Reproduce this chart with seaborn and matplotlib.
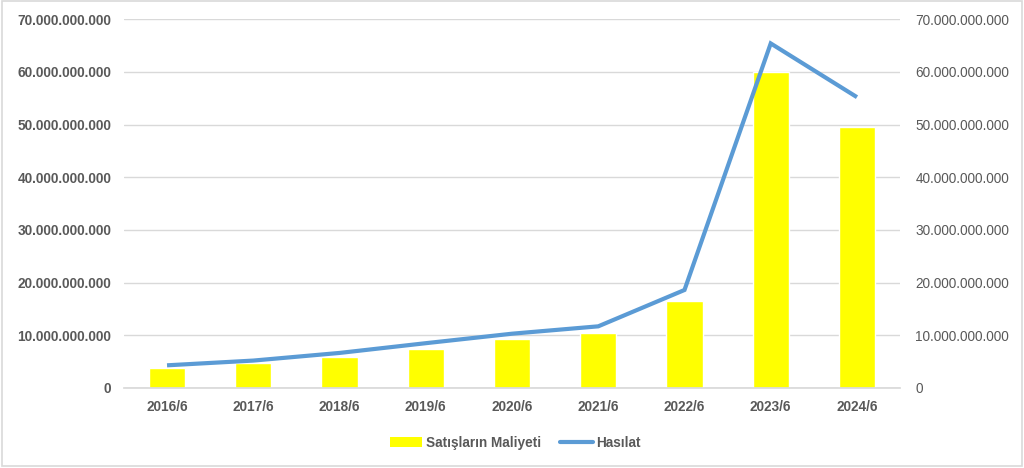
import matplotlib
matplotlib.use("Agg")
import matplotlib.pyplot as plt
import seaborn as sns
import pandas as pd
from matplotlib.ticker import FuncFormatter, MultipleLocator
from matplotlib.patches import Rectangle
from matplotlib.lines import Line2D
from matplotlib.patches import Patch

categories = ["2016/6", "2017/6", "2018/6", "2019/6", "2020/6", "2021/6", "2022/6", "2023/6", "2024/6"]
satislarin_maliyeti = [3.85e9, 4.7e9, 5.9e9, 7.4e9, 9.3e9, 10.4e9, 16.55e9, 60.0e9, 49.6e9]
hasilat = [4.3e9, 5.2e9, 6.65e9, 8.5e9, 10.3e9, 11.7e9, 18.6e9, 65.4e9, 55.2e9]

df = pd.DataFrame({"Dönem": categories, "Satışların Maliyeti": satislarin_maliyeti, "Hasılat": hasilat})

sns.set_theme(style="white")
plt.rcParams["font.family"] = ["Liberation Sans", "DejaVu Sans"]

BAR_C = "#FFFF00"
LINE_C = "#5B9BD5"
TXT = "#595959"
GRID = "#D9D9D9"
FS = 9.8

fig = plt.figure(figsize=(10.24, 4.68), dpi=100)
ax = fig.add_axes([0.121, 0.171, 0.758, 0.788])

sns.barplot(data=df, x="Dönem", y="Satışların Maliyeti", color=BAR_C, width=0.42,
            saturation=1, ax=ax, zorder=2)
ax.set_ylim(0, 70e9)
ax.yaxis.set_major_locator(MultipleLocator(10e9))
fmt = FuncFormatter(lambda v, p: f"{v:,.0f}".replace(",", "."))
ax.yaxis.set_major_formatter(fmt)
ax.grid(axis="y", color=GRID, linewidth=1, zorder=0)
ax.set_axisbelow(True)
ax.set_xlabel("")
ax.set_ylabel("")
for s in ["top", "left", "right"]:
    ax.spines[s].set_visible(False)
ax.spines["bottom"].set_color(GRID)
ax.tick_params(axis="x", length=0, colors=TXT, labelsize=FS, pad=9)
ax.tick_params(axis="y", length=0, colors=TXT, labelsize=FS, pad=9)
for lab in ax.get_xticklabels() + ax.get_yticklabels():
    lab.set_fontweight("bold")
    lab.set_color(TXT)

ax2 = ax.twinx()
sns.pointplot(data=df, x="Dönem", y="Hasılat", color=LINE_C, markers="", errorbar=None,
              linewidth=3, ax=ax2)
ax2.set_xlim(ax.get_xlim())
ax2.set_ylim(0, 70e9)
ax2.yaxis.set_major_locator(MultipleLocator(10e9))
ax2.yaxis.set_major_formatter(fmt)
ax2.set_ylabel("")
ax2.set_xlabel("")
ax2.grid(False)
for s in ["top", "left", "right", "bottom"]:
    ax2.spines[s].set_visible(False)
ax2.tick_params(axis="y", length=0, colors=TXT, labelsize=FS, pad=11)
for l in ax2.lines:
    l.set_solid_capstyle("butt")
    l.set_solid_joinstyle("miter")

handles = [Patch(facecolor=BAR_C, edgecolor="none", label="Satışların Maliyeti"),
           Line2D([0], [0], color=LINE_C, linewidth=3, label="Hasılat")]
leg = fig.legend(handles=handles, loc="center", bbox_to_anchor=(0.503, 0.054), ncol=2,
                 frameon=False, fontsize=FS, handlelength=2.4, handletextpad=0.25,
                 columnspacing=1.4)
for t in leg.get_texts():
    t.set_color(TXT)
    t.set_fontweight("bold")

fig.patches.append(Rectangle((0.002, 0.004), 0.996, 0.993, transform=fig.transFigure,
                             fill=False, edgecolor="#D9D9D9", linewidth=1.2))

fig.savefig("out.png", dpi=100, facecolor="white")
